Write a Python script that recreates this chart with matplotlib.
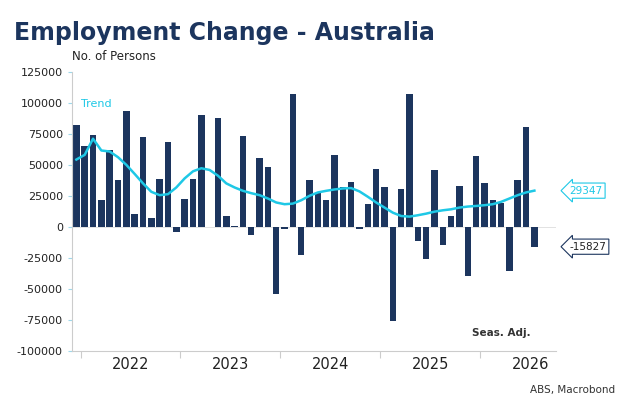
import matplotlib
matplotlib.use("Agg")
import matplotlib.pyplot as plt
import numpy as np

plt.rcParams["axes.unicode_minus"] = False
years = ["2022", "2023", "2024", "2025", "2026"]
change = [82500, 65200, 74400, 21400, 62200, 38200, 93400, 10300, 72800, 7300, 38700, 68200,
          -3800, 22500, 38400, 90100, 300, 87700, 8900, 1100, 73100, -6500, 55500, 48200,
          -53900, -1900, 106900, -22200, 37900, 27600, 22200, 58200, 32500, 36300, -1900, 18400,
          46800, 32500, -75500, 30600, 107400, -11600, -25400, 46000, -14600, 8900, 33000, -39800,
          57100, 35700, 21900, 19200, -35200, 38200, 80400, -15827]
trend = [54400, 58200, 71200, 61700, 60900, 56300, 50100, 42800, 35200, 28400, 25700, 26500,
         31900, 39200, 44900, 47400, 46000, 41400, 35200, 31900, 29200, 27300, 25700, 23000,
         19800, 18400, 18900, 21600, 25200, 27900, 29200, 30300, 31100, 31400, 28700, 24400,
         19800, 15700, 11600, 8900, 8400, 9500, 10800, 12400, 13500, 14300, 15700, 16500,
         17000, 17600, 18400, 20300, 23000, 25700, 27900, 29347]

navy = "#1c355e"
cyan = "#1ec8e6"
fig = plt.figure(figsize=(6.25, 4.16), dpi=100)
ax = fig.add_axes([0.115, 0.156, 0.774, 0.671])
x = np.arange(len(change))
ax.bar(x, change, width=0.78, color=navy, zorder=2)
ax.plot(x, trend, color=cyan, lw=1.8, zorder=3)
ax.set_xlim(-0.54, 57.55)
ax.set_ylim(-100000, 125000)
ax.set_yticks(np.arange(-100000, 125001, 25000))
ax.tick_params(axis="y", labelsize=8, length=3, color="#9fd8ea", labelcolor="#222222")
ax.set_xticks([0.5 + 12 * i for i in range(5)])
ax.set_xticklabels([])
ax.tick_params(axis="x", length=5, color="#cccccc")
for i, y in enumerate(years):
    ax.text(6.5 + 12 * i, -105000, y, ha="center", va="top", fontsize=10.5, color="#222222")
for s in ["top", "right"]:
    ax.spines[s].set_visible(False)
for s in ["left", "bottom"]:
    ax.spines[s].set_color("#cccccc")
ax.axhline(0, color="#dddddd", lw=0.6, zorder=1)

fig.text(0.022, 0.905, "Employment Change - Australia", fontsize=17, fontweight="bold", color=navy)
fig.text(0.115, 0.855, "No. of Persons", fontsize=8.5, color="#222222")
ax.text(0.5, 97000, "Trend", color=cyan, fontsize=8)
ax.text(54.5, -88000, "Seas. Adj.", fontsize=7.5, fontweight="bold", color="#333333", ha="right")
fig.text(0.985, 0.055, "ABS, Macrobond", fontsize=7.5, color="#333333", ha="right")

ax.annotate("29347", xy=(59.2, trend[-1]), xycoords="data", fontsize=7.5, color=cyan,
            va="center", ha="left", annotation_clip=False,
            bbox=dict(boxstyle="larrow,pad=0.25", fc="white", ec=cyan, lw=0.8))
ax.annotate("-15827", xy=(59.2, change[-1]), xycoords="data", fontsize=7.5, color="#222222",
            va="center", ha="left", annotation_clip=False,
            bbox=dict(boxstyle="larrow,pad=0.25", fc="white", ec=navy, lw=0.8))
fig.savefig("out.png", dpi=100)
